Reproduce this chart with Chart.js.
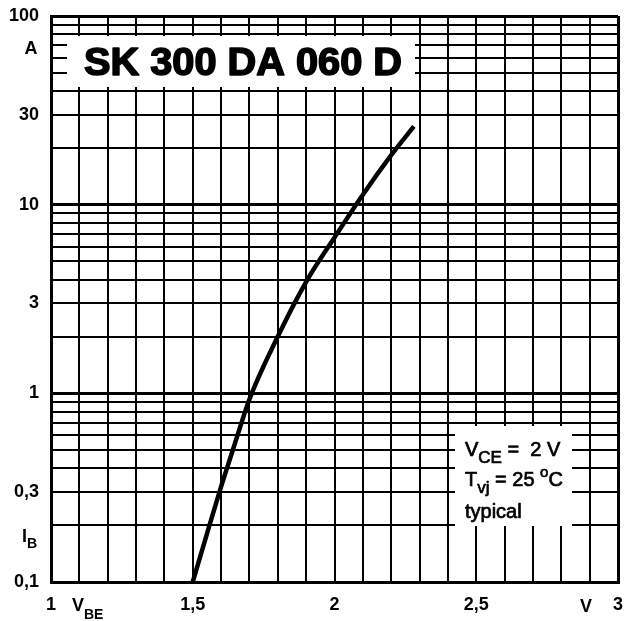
<!DOCTYPE html>
<html><head><meta charset="utf-8">
<script src="https://cdn.jsdelivr.net/npm/chart.js@4.4.1/dist/chart.umd.min.js"></script>
<style>html,body{margin:0;padding:0;background:#fff}#wrap{width:625px;height:621px}</style>
</head><body><div id="wrap"><canvas id="c" width="625" height="621"></canvas></div>
<script>
// ---- data ----
const vbe = [1.50, 1.55, 1.60, 1.65, 1.70, 1.80, 1.90, 2.00, 2.10, 2.20, 2.28];
const ib  = [0.10, 0.18, 0.32, 0.55, 0.93, 2.0, 3.9, 6.7, 11.3, 18.3, 26];
const xTickValues = [1, 1.5, 2, 2.5, 3];
const xTickText   = ['1', '1,5', '2', '2,5', '3'];
const yTickValues = [0.1, 0.3, 1, 3, 10, 30, 100];
const yTickText   = ['0,1', '0,3', '1', '3', '10', '30', '100'];
const yGridMantissas = [1, 2, 3, 4, 5, 6, 7, 8, 9];
const yGridDecades = [0.1, 1, 10];
const titleText = 'SK 300 DA 060 D';

const yGridValues = [];
yGridDecades.forEach(d => yGridMantissas.forEach(m => yGridValues.push(+(m * d).toPrecision(6))));
yGridValues.push(100);

const FONT = '"Liberation Sans", Arial, sans-serif';

function runs(ctx, x, y, parts, stroke) {
  let cx = x;
  parts.forEach(p => {
    ctx.font = (p.bold ? 'bold ' : '') + p.size + 'px ' + FONT;
    ctx.fillText(p.t, cx, y + (p.dy || 0));
    if (stroke) { ctx.lineWidth = stroke; ctx.strokeText(p.t, cx, y + (p.dy || 0)); }
    cx += ctx.measureText(p.t).width + (p.gap || 0);
  });
}

const deco = {
  id: 'deco',
  beforeDatasetsDraw(chart) {
    const ctx = chart.ctx, a = chart.chartArea;
    ctx.save();
    ctx.fillStyle = '#fff';
    // title box
    ctx.fillRect(a.left + 16, a.top + 20, 348, 51);
    // condition box
    ctx.fillRect(a.left + 404, a.top + 410, 117, 100);
    ctx.restore();
  },
  afterDraw(chart) {
    const ctx = chart.ctx, a = chart.chartArea;
    ctx.save();
    ctx.fillStyle = '#000';
    ctx.strokeStyle = '#000';
    ctx.lineJoin = 'round';
    ctx.textBaseline = 'alphabetic';
    // title
    ctx.font = 'bold 38px ' + FONT;
    const w = ctx.measureText(titleText).width;
    ctx.translate(a.left + 33, a.top + 59);
    ctx.scale(318 / w, 1);
    ctx.fillText(titleText, 0, 0);
    ctx.lineWidth = 1.6;
    ctx.strokeText(titleText, 0, 0);
    ctx.setTransform(1, 0, 0, 1, 0, 0);
    // conditions
    runs(ctx, a.left + 414, a.top + 440, [
      {t: 'V', size: 20}, {t: 'CE', size: 17, dy: 7}, {t: ' =  2 V', size: 20}
    ], 0.7);
    runs(ctx, a.left + 414, a.top + 470, [
      {t: 'T', size: 20}, {t: 'vj', size: 17, dy: 7}, {t: ' = 25 ', size: 20}, {t: 'o', size: 15, dy: -9}, {t: 'C', size: 20}
    ], 0.7);
    runs(ctx, a.left + 414, a.top + 502, [{t: 'typical', size: 20}], 0.7);
    // axis unit labels
    ctx.textAlign = 'center';
    ctx.font = 'bold 18px ' + FONT;
    ctx.fillText('A', 31, a.top + 38);
    ctx.textAlign = 'left';
    runs(ctx, 22, a.top + 526, [{t: 'I', size: 18, bold: true}, {t: 'B', size: 14, bold: true, dy: 6}]);
    runs(ctx, 72, a.bottom + 29, [{t: 'V', size: 18, bold: true}, {t: 'BE', size: 14, bold: true, dy: 8}]);
    ctx.textAlign = 'center';
    ctx.font = 'bold 18px ' + FONT;
    ctx.fillText('V', 586, a.bottom + 30);
    ctx.restore();
  }
};

new Chart(document.getElementById('c'), {
  type: 'line',
  data: {
    datasets: [{
      data: vbe.map((v, i) => ({x: v, y: ib[i]})),
      borderColor: '#000',
      borderWidth: 4.5,
      pointRadius: 0,
      fill: false,
      cubicInterpolationMode: 'monotone'
    }]
  },
  options: {
    responsive: false,
    animation: false,
    devicePixelRatio: 1,
    layout: {padding: {top: 16, right: 7, left: 0, bottom: 0}},
    plugins: {legend: {display: false}, tooltip: {enabled: false}},
    scales: {
      x: {
        type: 'linear', min: 1, max: 3,
        ticks: {
          stepSize: 0.1, autoSkip: false, maxRotation: 0, padding: 12,
          color: '#000', font: {family: FONT, size: 18, weight: 'bold'},
          callback: v => { const i = xTickValues.findIndex(t => Math.abs(t - v) < 1e-6); return i >= 0 ? xTickText[i] : ''; }
        },
        grid: {color: '#000', lineWidth: c => (c.index === 0 || Math.abs(c.tick.value - 3) < 1e-6) ? 3 : 2, drawTicks: false},
        border: {display: true, color: '#000', width: 3},
        afterFit: s => { s.height = 39; s.paddingLeft = 0; s.paddingRight = 0; }
      },
      y: {
        type: 'logarithmic', min: 0.1, max: 100,
        afterBuildTicks: s => { s.ticks = yGridValues.map(v => ({value: v})); },
        ticks: {
          autoSkip: false, padding: 12,
          color: '#000', font: {family: FONT, size: 18, weight: 'bold'},
          callback: v => { const i = yTickValues.findIndex(t => Math.abs(t - v) / t < 1e-6); return i >= 0 ? yTickText[i] : ''; }
        },
        grid: {color: '#000', lineWidth: c => [0.1, 1, 10, 100].some(d => Math.abs(c.tick.value - d) / d < 1e-6) ? 3 : 2, drawTicks: false},
        border: {display: true, color: '#000', width: 3},
        afterFit: s => { s.width = 51; s.paddingTop = 0; s.paddingBottom = 0; }
      }
    }
  },
  plugins: [deco]
});
</script></body></html>
